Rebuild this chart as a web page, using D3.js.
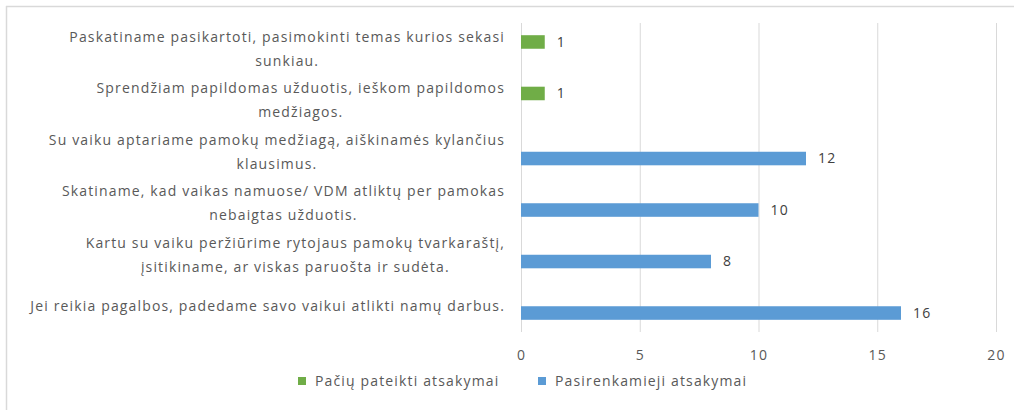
<!DOCTYPE html>
<html>
<head>
<meta charset="utf-8">
<script src="https://cdn.jsdelivr.net/npm/d3@7"></script>
<style>
  body { margin: 0; background: #fff; }
  text { font-family: "Open Sans", sans-serif; fill: #595959; letter-spacing: 1.15px; }
</style>
</head>
<body>
<svg width="1014" height="410"></svg>
<script>
// label lines per category, top to bottom
var categories = [
  ['Paskatiname pasikartoti, pasimokinti temas kurios sekasi', 'sunkiau.'],
  ['Sprendžiam papildomas užduotis, ieškom papildomos', 'medžiagos.'],
  ['Su vaiku aptariame pamokų medžiagą, aiškinamės kylančius', 'klausimus.'],
  ['Skatiname, kad vaikas namuose/ VDM atliktų per pamokas', 'nebaigtas užduotis.'],
  ['Kartu su vaiku peržiūrime rytojaus pamokų tvarkaraštį,', 'įsitikiname, ar viskas paruošta ir sudėta.'],
  ['Jei reikia pagalbos, padedame savo vaikui atlikti namų darbus.']
];
var seriesNames = ['Pačių pateikti atsakymai', 'Pasirenkamieji atsakymai'];
var ownAnswers = [1, 1, null, null, null, null];
var chosenAnswers = [null, null, 12, 10, 8, 16];
var xTicks = [0, 5, 10, 15, 20];
var colors = ['#70AD47', '#5B9BD5'];

var svg = d3.select('svg');
var plotLeft = 521, plotRight = 996, plotTop = 23, plotBottom = 332;

// frame
svg.append('line').attr('x1', 6).attr('x2', 1014).attr('y1', 6.5).attr('y2', 6.5)
  .attr('stroke', '#d9d9d9').attr('stroke-width', 1.5);
svg.append('line').attr('x1', 6.5).attr('x2', 6.5).attr('y1', 6).attr('y2', 410)
  .attr('stroke', '#d9d9d9').attr('stroke-width', 1.5);

var xScale = d3.scaleLinear().domain([0, 20]).range([plotLeft, plotRight]);
var yScale = d3.scaleBand().domain(d3.range(categories.length)).range([plotTop, plotBottom]);
// two series per category, sitting just above and below the band centre
var inner = d3.scaleBand().domain([0, 1]).range([0, yScale.bandwidth()]).paddingOuter(0.9);

// gridlines
svg.append('g').selectAll('line').data(xTicks).enter().append('line')
  .attr('x1', function(d) { return xScale(d) + 0.5; })
  .attr('x2', function(d) { return xScale(d) + 0.5; })
  .attr('y1', plotTop).attr('y2', plotBottom)
  .attr('stroke', '#d9d9d9');

// x axis labels
var xAxis = d3.axisBottom(xScale).tickValues(xTicks).tickSize(0).tickPadding(0);
var xg = svg.append('g').attr('transform', 'translate(0,' + (plotBottom + 18) + ')').call(xAxis);
xg.select('.domain').remove();
xg.attr('font-family', null).attr('font-size', null);
xg.selectAll('text').attr('font-size', 14).attr('fill', '#595959');

// bars
var series = [ownAnswers, chosenAnswers];
series.forEach(function(vals, s) {
  var pts = vals.map(function(v, i) { return { v: v, i: i }; }).filter(function(d) { return d.v != null; });
  var g = svg.append('g');
  g.selectAll('rect').data(pts).enter().append('rect')
    .attr('x', xScale(0))
    .attr('y', function(d) { return yScale(d.i) + inner(s); })
    .attr('width', function(d) { return xScale(d.v) - xScale(0); })
    .attr('height', inner.bandwidth())
    .attr('fill', colors[s]);
  g.selectAll('text').data(pts).enter().append('text')
    .attr('x', function(d) { return xScale(d.v) + 12; })
    .attr('y', function(d) { return yScale(d.i) + inner(s) + inner.bandwidth() / 2; })
    .attr('dy', '0.35em')
    .attr('font-size', 14)
    .style('fill', '#404040')
    .text(function(d) { return d.v; });
});

// category labels: block right-aligned at 505, lines centred within the block
var labelRight = 505, lineH = 24;
categories.forEach(function(lines, i) {
  var g = svg.append('g');
  var cy = yScale(i) + yScale.bandwidth() / 2;
  var t = g.selectAll('text').data(lines).enter().append('text')
    .attr('font-size', 14)
    .attr('y', function(d, k) { return cy + (k - (lines.length - 1) / 2) * lineH; })
    .attr('dy', '0.35em')
    .attr('text-anchor', 'middle')
    .text(function(d) { return d; });
  var w = 0;
  t.each(function() { w = Math.max(w, this.getComputedTextLength()); });
  t.attr('x', labelRight - w / 2);
});

// legend
var legendX = [298, 538];
seriesNames.forEach(function(name, s) {
  svg.append('rect').attr('x', legendX[s]).attr('y', 377).attr('width', 8).attr('height', 8).attr('fill', colors[s]);
  svg.append('text').attr('x', legendX[s] + 17).attr('y', 381).attr('dy', '0.35em')
    .attr('font-size', 14).text(name);
});
</script>
</body>
</html>
